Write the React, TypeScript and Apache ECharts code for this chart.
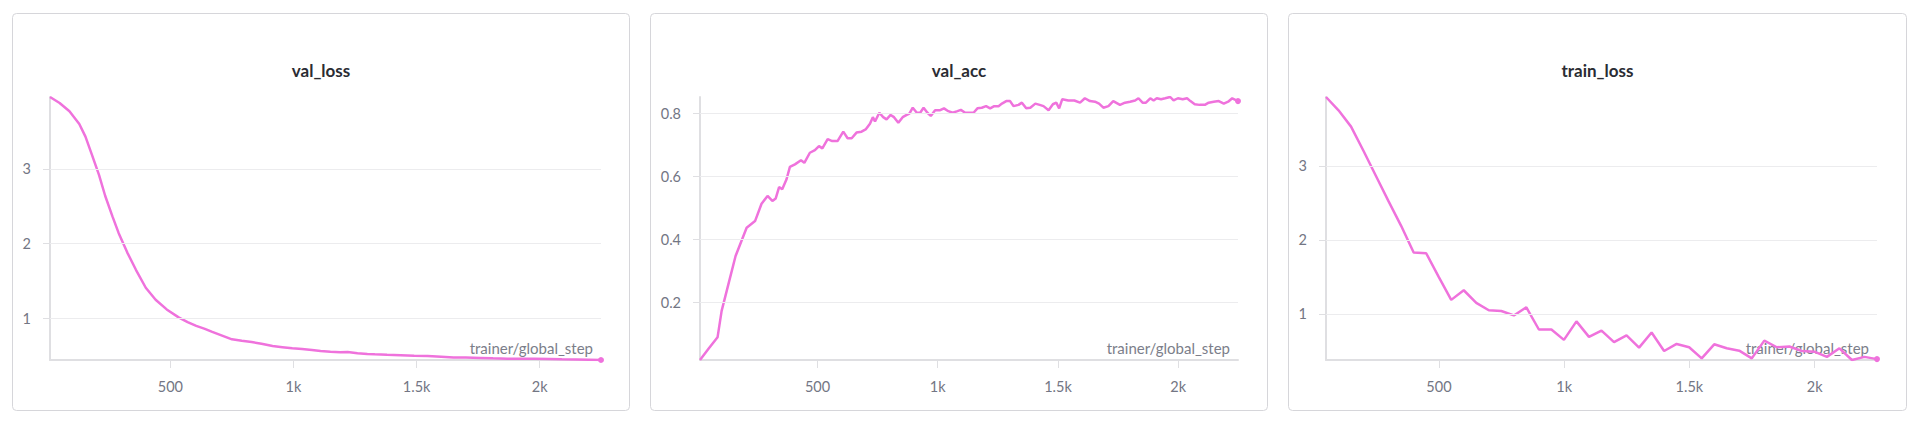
import React, { useEffect, useRef } from "react";
import * as echarts from "echarts";

const LINE_COLOR = "#ef72dc";
const FONT = "Lato, 'Noto Sans', sans-serif";

const titles = ["val_loss", "val_acc", "train_loss"];
const xAxisName = "trainer/global_step";
const xTickValues = [500, 1000, 1500, 2000];

const valLossSteps = [11, 50, 90, 130, 155, 180, 210, 235, 265, 290, 325, 360, 400, 440, 485, 535, 570, 605, 640, 670, 710, 750, 790, 830, 870, 915, 955, 995, 1035, 1075, 1110, 1150, 1190, 1220, 1260, 1300, 1330, 1380, 1435, 1490, 1545, 1600, 1650, 1700, 1760, 1810, 1870, 1930, 1980, 2040, 2090, 2150, 2200, 2249];
const valLossValues = [3.96, 3.88, 3.77, 3.6, 3.43, 3.2, 2.92, 2.64, 2.36, 2.14, 1.88, 1.65, 1.41, 1.25, 1.12, 1.01, 0.95, 0.9, 0.86, 0.82, 0.77, 0.72, 0.7, 0.685, 0.66, 0.63, 0.615, 0.6, 0.59, 0.578, 0.565, 0.555, 0.548, 0.552, 0.535, 0.525, 0.52, 0.513, 0.507, 0.5, 0.497, 0.487, 0.476, 0.478, 0.472, 0.466, 0.462, 0.461, 0.46, 0.456, 0.453, 0.452, 0.449, 0.444];
const valLossTicks = [1, 2, 3];

const valAccSteps = [11, 48, 84, 101, 129, 159, 205, 240, 267, 292, 312, 326, 340, 353, 371, 385, 406, 431, 445, 468, 489, 506, 520, 542, 561, 583, 607, 625, 642, 662, 683, 700, 718, 730, 739, 757, 773, 787, 804, 818, 836, 854, 871, 882, 896, 913, 927, 941, 957, 971, 989, 1010, 1026, 1044, 1062, 1082, 1096, 1114, 1135, 1149, 1165, 1183, 1201, 1218, 1235, 1253, 1267, 1285, 1301, 1315, 1336, 1350, 1368, 1385, 1406, 1424, 1440, 1461, 1479, 1493, 1505, 1518, 1543, 1568, 1592, 1612, 1633, 1654, 1671, 1689, 1710, 1730, 1758, 1779, 1800, 1821, 1835, 1852, 1866, 1884, 1898, 1911, 1929, 1946, 1967, 1981, 1999, 2019, 2037, 2051, 2069, 2089, 2111, 2127, 2148, 2169, 2190, 2208, 2225, 2249];
const valAccValues = [0.018, 0.055, 0.09, 0.174, 0.258, 0.348, 0.438, 0.459, 0.514, 0.539, 0.523, 0.531, 0.567, 0.56, 0.592, 0.631, 0.639, 0.652, 0.644, 0.676, 0.684, 0.697, 0.69, 0.719, 0.713, 0.713, 0.743, 0.722, 0.722, 0.74, 0.743, 0.75, 0.768, 0.789, 0.775, 0.803, 0.789, 0.782, 0.796, 0.789, 0.771, 0.789, 0.796, 0.8, 0.819, 0.803, 0.803, 0.819, 0.803, 0.793, 0.811, 0.811, 0.817, 0.808, 0.803, 0.808, 0.812, 0.803, 0.803, 0.803, 0.817, 0.819, 0.824, 0.817, 0.824, 0.824, 0.832, 0.84, 0.84, 0.824, 0.828, 0.835, 0.817, 0.819, 0.832, 0.828, 0.824, 0.811, 0.83, 0.835, 0.817, 0.846, 0.842, 0.842, 0.835, 0.849, 0.84, 0.838, 0.832, 0.819, 0.824, 0.84, 0.828, 0.835, 0.838, 0.842, 0.849, 0.835, 0.835, 0.849, 0.842, 0.849, 0.846, 0.849, 0.853, 0.842, 0.849, 0.846, 0.849, 0.84, 0.83, 0.828, 0.828, 0.835, 0.838, 0.84, 0.832, 0.838, 0.849, 0.84];
const valAccTicks = [0.2, 0.4, 0.6, 0.8];

const trainLossSteps = [49, 99, 149, 199, 249, 299, 349, 399, 449, 499, 549, 599, 649, 699, 749, 799, 849, 899, 949, 999, 1049, 1099, 1149, 1199, 1249, 1299, 1349, 1399, 1449, 1499, 1549, 1599, 1649, 1699, 1749, 1799, 1849, 1899, 1949, 1999, 2049, 2099, 2149, 2199, 2249];
const trainLossValues = [3.93, 3.75, 3.53, 3.2, 2.86, 2.52, 2.19, 1.83, 1.82, 1.5, 1.19, 1.32, 1.15, 1.05, 1.04, 0.98, 1.09, 0.79, 0.79, 0.65, 0.9, 0.69, 0.775, 0.62, 0.71, 0.545, 0.75, 0.5, 0.595, 0.55, 0.4, 0.59, 0.536, 0.504, 0.4, 0.64, 0.55, 0.56, 0.5, 0.49, 0.42, 0.536, 0.378, 0.42, 0.39];
const trainLossTicks = [1, 2, 3];

const seriesSteps = [valLossSteps, valAccSteps, trainLossSteps];
const seriesValues = [valLossValues, valAccValues, trainLossValues];
const yTickValues = [valLossTicks, valAccTicks, trainLossTicks];

// layout (pixels)
const panelBoxes = [
  { x: 12.5, y: 13.5, w: 617, h: 397 },
  { x: 650.5, y: 13.5, w: 617, h: 397 },
  { x: 1288.5, y: 13.5, w: 618, h: 397 },
];
const grids = [
  { left: 50, top: 97, width: 551, height: 263 },
  { left: 700, top: 97, width: 538, height: 263 },
  { left: 1326, top: 97, width: 551, height: 263 },
];

const AXIS_COLOR = "#dfdfe2";
const GRID_COLOR = "#ececee";
const LABEL_COLOR = "#737684";

function fmtStep(v: number) {
  if (v >= 1000) return v / 1000 + "k";
  return String(v);
}

export default function App() {
  const ref = useRef<HTMLDivElement>(null);
  useEffect(() => {
    if (!ref.current) return;
    const chart = echarts.init(ref.current, null, { renderer: "svg" });

    const graphic: any[] = [];
    panelBoxes.forEach((p, i) => {
      graphic.push({
        type: "rect",
        z: -10,
        shape: { x: p.x, y: p.y, width: p.w, height: p.h, r: 4 },
        style: { fill: "#ffffff", stroke: "#d6d6da", lineWidth: 1 },
        silent: true,
      });
      graphic.push({
        type: "text",
        z: -5,
        x: p.x + p.w / 2,
        y: 70,
        style: {
          text: titles[i],
          fill: "#2a2c33",
          fontSize: 17,
          fontWeight: "bold",
          fontFamily: FONT,
          align: "center",
          verticalAlign: "middle",
        },
        silent: true,
      });
      const g = grids[i];
      graphic.push({
        type: "text",
        z: -5,
        x: g.left + g.width - 8,
        y: 348,
        style: {
          text: xAxisName,
          fill: "#7b7e8a",
          fontSize: 15,
          fontFamily: FONT,
          align: "right",
          verticalAlign: "middle",
        },
        silent: true,
      });
    });

    const xAxis = grids.map((_, i) => ({
      type: "value",
      gridIndex: i,
      min: "dataMin",
      max: "dataMax",
      axisLine: { show: true, lineStyle: { color: AXIS_COLOR, width: 2 } },
      axisTick: {
        show: true,
        customValues: xTickValues,
        length: 8,
        lineStyle: { color: AXIS_COLOR, width: 1 },
      },
      axisLabel: {
        customValues: xTickValues,
        formatter: (v: number) => fmtStep(v),
        color: LABEL_COLOR,
        fontSize: 14.5,
        fontFamily: FONT,
        margin: 19,
      },
      splitLine: { show: false },
    }));

    const yAxis = grids.map((_, i) => ({
      type: "value",
      gridIndex: i,
      min: "dataMin",
      max: "dataMax",
      axisLine: { show: true, lineStyle: { color: AXIS_COLOR, width: 2 } },
      axisTick: {
        show: true,
        customValues: yTickValues[i],
        length: 7,
        lineStyle: { color: AXIS_COLOR, width: 1 },
      },
      axisLabel: {
        customValues: yTickValues[i],
        color: LABEL_COLOR,
        fontSize: 14.5,
        fontFamily: FONT,
        margin: 19,
      },
      splitLine: { show: false },
    }));

    const series: any[] = [];
    grids.forEach((_, i) => {
      series.push({
        type: "line",
        xAxisIndex: i,
        yAxisIndex: i,
        data: [],
        z: 1,
        silent: true,
        markLine: {
          silent: true,
          symbol: "none",
          label: { show: false },
          lineStyle: { color: GRID_COLOR, width: 1, type: "solid" },
          data: yTickValues[i].map((v) => ({ yAxis: v })),
        },
      });
      const steps = seriesSteps[i];
      const vals = seriesValues[i];
      series.push({
        type: "line",
        xAxisIndex: i,
        yAxisIndex: i,
        z: 3,
        showSymbol: true,
        symbol: "none",
        lineStyle: { color: LINE_COLOR, width: 2.5 },
        itemStyle: { color: LINE_COLOR },
        data: steps.map((s, k) =>
          k === steps.length - 1
            ? { value: [s, vals[k]], symbol: "circle", symbolSize: 6 }
            : [s, vals[k]]
        ),
      });
    });

    chart.setOption({
      animation: false,
      backgroundColor: "#ffffff",
      grid: grids.map((g) => ({ ...g, containLabel: false })),
      xAxis,
      yAxis,
      series,
      graphic,
    });
    return () => chart.dispose();
  }, []);

  return (
    <div
      ref={ref}
      style={{ position: "absolute", left: 0, top: 0, width: 1920, height: 421 }}
    />
  );
}
